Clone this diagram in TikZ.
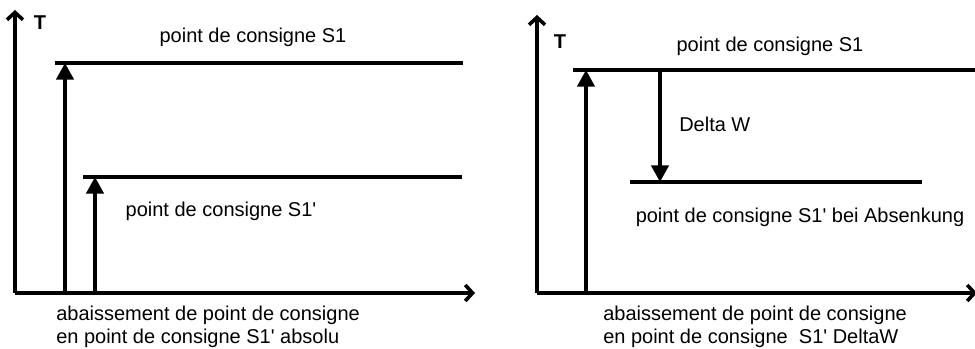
\documentclass[tikz,border=0pt]{standalone}
\usepackage{fontspec}
\setmainfont{Liberation Sans}
\usepackage{tikz}
\usetikzlibrary{arrows.meta}

\begin{document}
\begin{tikzpicture}[x=0.75pt, y=0.75pt,
    every node/.style={font=\fontsize{15}{17.25}\selectfont, inner sep=0pt},
    axis/.style={line width=2.7pt, -{Straight Barb[length=5.5pt, width=12pt, line width=2.7pt]}},
    level/.style={line width=2.5pt},
    riser/.style={line width=2.5pt, -{Triangle[length=12.5pt, width=13pt]}}]
    \useasboundingbox (0, 0) rectangle (975, 349);

    % left: absolute setpoint
    \coordinate (O1) at (15, 56);
    \coordinate (Y1) at (15, 339);
    \coordinate (X1) at (475, 56);
    \coordinate (S1a) at (55, 286);
    \coordinate (S1b) at (463, 286);
    \coordinate (R1a) at (83, 172);
    \coordinate (R1b) at (462, 172);
    \coordinate (B1a) at (65, 56);
    \coordinate (T1a) at (65, 286);
    \coordinate (B1b) at (95, 56);
    \coordinate (T1b) at (95, 172);
    \node (T1) at (40, 326){\textbf{T}};
    \node (L1) at (253, 312){point de consigne S1};
    \node (M1) at (221, 138){point de consigne S1\textquotesingle};
    \node[anchor=west, align=left] (C1) at (56, 22.5){abaissement de point de consigne\\en point de consigne S1\textquotesingle{} absolu};
    \draw[axis] (O1)--(Y1);
    \draw[axis] (O1)--(X1);
    \draw[level] (S1a)--(S1b);
    \draw[level] (R1a)--(R1b);
    \draw[riser] (B1a)--(T1a);
    \draw[riser] (B1b)--(T1b);

    % right: setpoint lowered by Delta W
    \coordinate (O2) at (537, 56);
    \coordinate (Y2) at (537, 334);
    \coordinate (X2) at (977, 56);
    \coordinate (S2a) at (573, 279);
    \coordinate (S2b) at (975, 279);
    \coordinate (R2a) at (630, 167);
    \coordinate (R2b) at (922, 167);
    \coordinate (B2) at (586, 56);
    \coordinate (T2) at (586, 279);
    \coordinate (D2a) at (660, 279);
    \coordinate (D2b) at (660, 167);
    \node (T2n) at (560, 307){\textbf{T}};
    \node (L2) at (770, 303){point de consigne S1};
    \node[anchor=west] (W2) at (679, 225){Delta W};
    \node (M2) at (800, 132){point de consigne S1\textquotesingle{} bei Absenkung};
    \node[anchor=west, align=left] (C2) at (603, 22.5){abaissement de point de consigne\\en point de consigne \ S1\textquotesingle{} DeltaW};
    \draw[axis] (O2)--(Y2);
    \draw[axis] (O2)--(X2);
    \draw[level] (S2a)--(S2b);
    \draw[level] (R2a)--(R2b);
    \draw[riser] (B2)--(T2);
    \draw[riser] (D2a)--(D2b);
\end{tikzpicture}
\end{document}
